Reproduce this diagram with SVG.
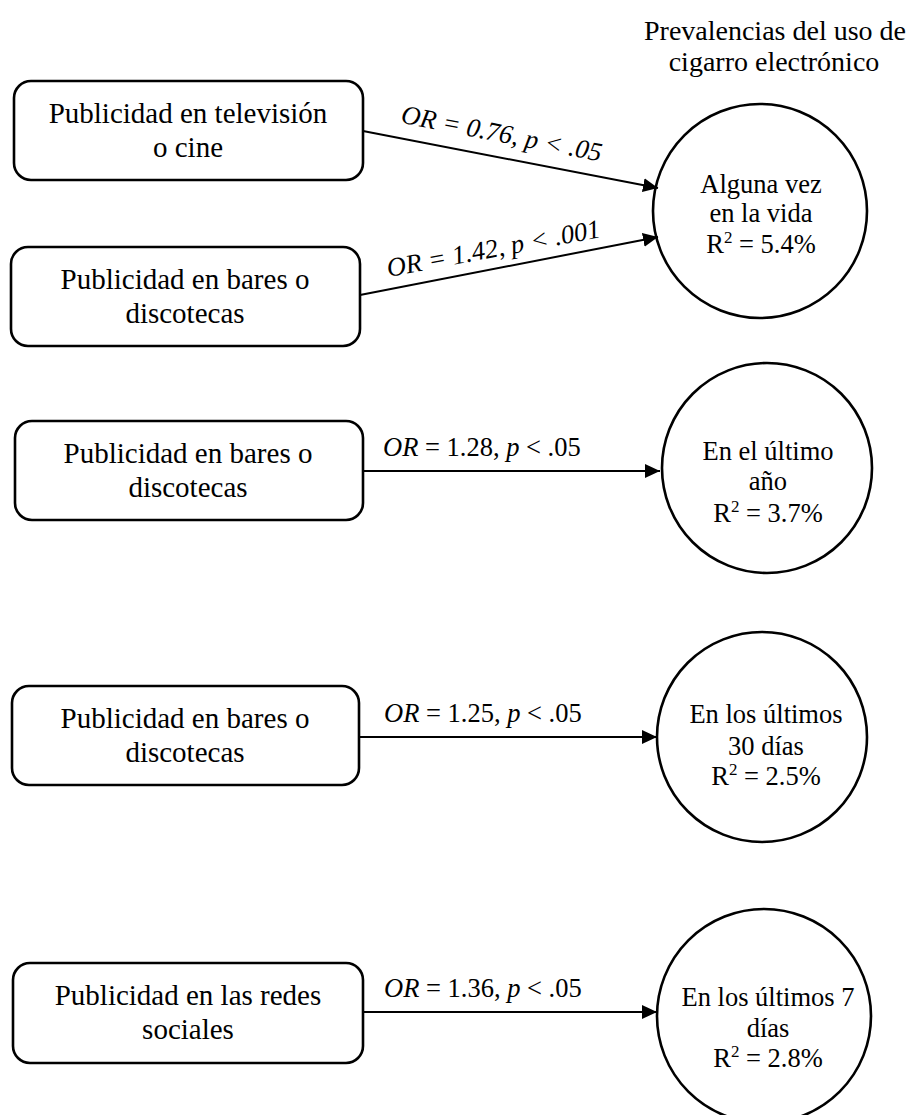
<svg xmlns="http://www.w3.org/2000/svg" width="914" height="1115" viewBox="0 0 914 1115">
  <style>
    text { font-family: "Liberation Serif", "Times New Roman", serif; fill: #000; }
    .box { fill: #fff; stroke: #000; stroke-width: 2.6; }
    .circ { fill: #fff; stroke: #000; stroke-width: 2.6; }
    .bt { font-size: 29px; text-anchor: middle; }
    .ct { font-size: 26.5px; text-anchor: middle; }
    .title { font-size: 28px; text-anchor: middle; }
    .lbl { font-size: 26.5px; }
    .it { font-style: italic; }
    .edge { stroke: #000; stroke-width: 2; fill: none; marker-end: url(#arrow); }
  </style>
  <defs>
    <marker id="arrow" markerWidth="15" markerHeight="14" refX="15" refY="7" orient="auto" markerUnits="userSpaceOnUse">
      <path d="M0,0 L15,7 L0,14 Z" fill="#000"/>
    </marker>
  </defs>

  <rect width="914" height="1115" fill="#fff"/>

  <g id="title">
    <text class="title" x="775" y="40">Prevalencias del uso de</text>
    <text class="title" x="774" y="71">cigarro electrónico</text>
  </g>

  <!-- predictors -->
  <g id="pred-tv">
    <rect class="box" x="14" y="81" width="349" height="99" rx="17"/>
    <text class="bt" x="188" y="123">Publicidad en televisión</text>
    <text class="bt" x="188" y="157">o cine</text>
  </g>
  <g id="pred-bares-1">
    <rect class="box" x="11" y="247" width="349" height="99" rx="17"/>
    <text class="bt" x="185" y="289">Publicidad en bares o</text>
    <text class="bt" x="185" y="323">discotecas</text>
  </g>
  <g id="pred-bares-2">
    <rect class="box" x="15" y="421" width="348" height="99" rx="17"/>
    <text class="bt" x="188" y="463">Publicidad en bares o</text>
    <text class="bt" x="188" y="497">discotecas</text>
  </g>
  <g id="pred-bares-3">
    <rect class="box" x="12" y="686" width="347" height="99" rx="17"/>
    <text class="bt" x="185" y="728">Publicidad en bares o</text>
    <text class="bt" x="185" y="762">discotecas</text>
  </g>
  <g id="pred-redes">
    <rect class="box" x="13" y="963" width="350" height="100" rx="17"/>
    <text class="bt" x="188" y="1005">Publicidad en las redes</text>
    <text class="bt" x="188" y="1039">sociales</text>
  </g>

  <!-- outcomes -->
  <g id="out-vida">
    <circle class="circ" cx="760" cy="211" r="107"/>
    <text class="ct" x="761" y="193">Alguna vez</text>
    <text class="ct" x="761" y="222">en la vida</text>
    <text class="ct" x="761" y="253">R<tspan font-size="17" dy="-10">2</tspan><tspan dy="10"> = 5.4%</tspan></text>
  </g>
  <g id="out-anio">
    <circle class="circ" cx="767" cy="468" r="105"/>
    <text class="ct" x="768" y="460">En el último</text>
    <text class="ct" x="768" y="490">año</text>
    <text class="ct" x="768" y="522">R<tspan font-size="17" dy="-10">2</tspan><tspan dy="10"> = 3.7%</tspan></text>
  </g>
  <g id="out-30">
    <circle class="circ" cx="762" cy="737" r="105"/>
    <text class="ct" x="766" y="723">En los últimos</text>
    <text class="ct" x="766" y="755">30 días</text>
    <text class="ct" x="766" y="785">R<tspan font-size="17" dy="-10">2</tspan><tspan dy="10"> = 2.5%</tspan></text>
  </g>
  <g id="out-7">
    <circle class="circ" cx="764" cy="1016" r="107"/>
    <text class="ct" x="768" y="1006">En los últimos 7</text>
    <text class="ct" x="768" y="1037">días</text>
    <text class="ct" x="768" y="1067">R<tspan font-size="17" dy="-10">2</tspan><tspan dy="10"> = 2.8%</tspan></text>
  </g>

  <!-- connectors -->
  <g id="connectors">
    <line class="edge" x1="363" y1="131" x2="658" y2="188"/>
    <line class="edge" x1="360" y1="295" x2="658" y2="237"/>
    <line class="edge" x1="363" y1="471" x2="660" y2="471"/>
    <line class="edge" x1="359" y1="737" x2="657" y2="737"/>
    <line class="edge" x1="363" y1="1012" x2="657" y2="1012"/>

    <text class="lbl it" text-anchor="middle" transform="translate(500,142) rotate(11)">OR = 0.76, p &lt; .05</text>
    <text class="lbl it" text-anchor="middle" transform="translate(495,257) rotate(-10.6)">OR = 1.42, p &lt; .001</text>
    <text class="lbl" x="383" y="456"><tspan class="it">OR</tspan> = 1.28, <tspan class="it">p</tspan> &lt; .05</text>
    <text class="lbl" x="384" y="722"><tspan class="it">OR</tspan> = 1.25, <tspan class="it">p</tspan> &lt; .05</text>
    <text class="lbl" x="384" y="997"><tspan class="it">OR</tspan> = 1.36, <tspan class="it">p</tspan> &lt; .05</text>
  </g>
</svg>
